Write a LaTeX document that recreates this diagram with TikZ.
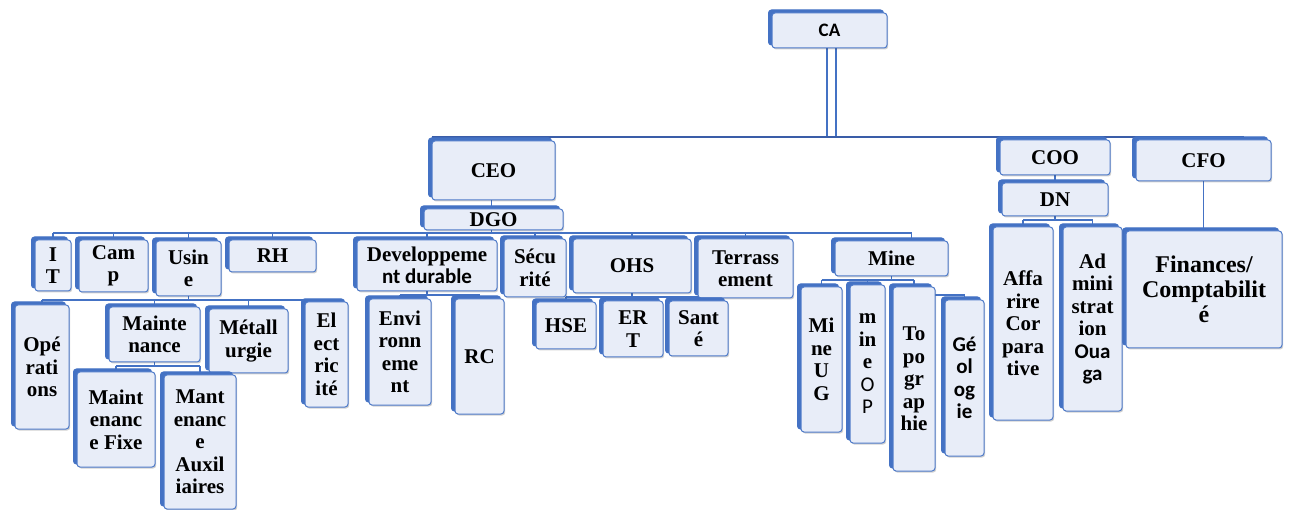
\documentclass[tikz,border=0pt]{standalone}
\usepackage{fontspec}
\setmainfont{Liberation Serif}
\newfontfamily\calfont{Carlito}
\usetikzlibrary{shadows,calc}
\definecolor{face}{HTML}{E8EDF8}
\definecolor{edge}{HTML}{4F7BC9}
\definecolor{depth}{HTML}{4472C4}
\definecolor{wire}{HTML}{4472C4}
\definecolor{mainwire}{HTML}{3A5DA8}
\pgfdeclarelayer{bg}
\pgfsetlayers{bg,main}
\tikzset{
  orgbox/.style={draw=edge, line width=1pt, rounded corners=3pt,
    fill=face, inner sep=0pt, align=center,
    font=\fontsize{21}{22.5}\selectfont\bfseries,
    drop shadow={shadow xshift=1.2pt, shadow yshift=-1.5pt, fill=black, opacity=0.18},
    general shadow={shadow xshift=-3.5pt, shadow yshift=3pt, fill=depth, draw=depth}},
  wire/.style={draw=wire, line width=1.6pt},
  mainline/.style={draw=mainwire, line width=2.6pt}
}
\newcommand\orgbox[7][]{\node[orgbox,#1,minimum width={#5-#3},minimum height={#6-#4}] (#2) at ({(#3+#5)/2},{(#4+#6)/2}) {#7};}
\begin{document}
\begin{tikzpicture}[x=1pt,y=-1pt]
\useasboundingbox (0,0) rectangle (1290,510);
% top level
\orgbox[font=\fontsize{19}{21}\selectfont\bfseries\calfont]{CA}{772}{13}{887}{48}{CA}
\orgbox{CEO}{432}{141}{555}{200}{CEO}
\orgbox{DGO}{424}{209}{563}{230}{DGO}
\orgbox{COO}{1000}{140}{1110}{175}{COO}
\orgbox{DN}{1002}{183}{1108}{216}{DN}
\orgbox{CFO}{1136}{140}{1271}{181}{CFO}
\orgbox[font=\fontsize{24}{25}\selectfont\bfseries]{Fin}{1126}{231}{1282}{348}{Finances/\\Comptabilit\\é}
\orgbox{Aff}{993}{227}{1053}{420}{Affa\\rire\\Cor\\para\\tive}
\orgbox{Adm}{1063}{227}{1122}{411}{Ad\\mini\\strat\\ion\\{\calfont Oua}\\{\calfont ga}}
% DGO children
\orgbox{IT}{35}{240}{71}{291}{I\\T}
\orgbox{Camp}{79}{240}{148}{292}{Cam\\p}
\orgbox{Usine}{156}{241}{221}{296}{Usin\\e}
\orgbox{RH}{229}{240}{316}{272}{RH}
\orgbox{DevDur}{357}{240}{497}{291}{Developpeme\\{\calfont nt durable}}
\orgbox{Secu}{504}{239}{566}{297}{Sécu\\rité}
\orgbox{OHS}{573}{239}{691}{293}{OHS}
\orgbox{Terr}{698}{239}{793}{298}{Terrass\\ement}
\orgbox{Mine}{835}{241}{948}{276}{Mine}
% Usine children
\orgbox{Oper}{15}{305}{69}{429}{Opé\\rati\\ons}
\orgbox{Maint}{109}{307}{200}{362}{Mainte\\nance}
\orgbox{Metal}{209}{309}{288}{373}{Métall\\urgie}
\orgbox{Elec}{305}{302}{348}{407}{El\\ect\\ric\\ité}
\orgbox{MFixe}{77}{372}{155}{467}{Maint\\enanc\\e Fixe}
\orgbox{MAux}{164}{375}{236}{509}{Mant\\enanc\\e\\Auxil\\iaires}
% Dev durable children
\orgbox{Env}{369}{299}{431}{405}{Envi\\ronn\\eme\\nt}
\orgbox{RC}{455}{299}{504}{414}{RC}
% OHS children
\orgbox{HSE}{536}{302}{596}{349}{HSE}
\orgbox{ERT}{603}{301}{663}{357}{ER\\T}
\orgbox{Sante}{669}{301}{728}{356}{Sant\\é}
% Mine children
\orgbox{MineUG}{801}{287}{842}{432}{Mi\\ne\\U\\G}
\orgbox{MineOP}{850}{285}{885}{443}{m\\in\\e\\{\calfont\mdseries O}\\{\calfont\mdseries P}}
\orgbox{Topo}{893}{287}{935}{471}{To\\po\\gr\\ap\\hie}
\orgbox[font=\fontsize{21}{22.5}\selectfont\bfseries\calfont]{Geo}{945}{300}{984}{456}{Gé\\ol\\og\\ie}
% connectors
\begin{pgfonlayer}{bg}
\coordinate (busTop) at (0,137);
\coordinate (busDGO) at (0,233);
\coordinate (busUsine) at (0,300);
\coordinate (busMaint) at (0,366);
\coordinate (busDev) at (0,295);
\coordinate (busOHS) at (0,297);
\coordinate (busMine) at (0,280);
\coordinate (busGeo) at (0,295);
\coordinate (busDN) at (0,220);
\draw[wire,line width=1.5pt] ([xshift=-2.5pt]CA.south) -- ([xshift=-2.5pt]CA.south |- busTop);
\draw[wire,line width=1.5pt] ([xshift=6.5pt]CA.south) -- ([xshift=6.5pt]CA.south |- busTop);
\draw[mainline] (CEO.north west |- busTop) -- ([xshift=40pt]CFO.north |- busTop);
\draw[wire] ([xshift=-2pt]CEO.south) -- ([xshift=-2pt]CEO.south |- DGO.north);
\draw[wire] ([xshift=-2pt]DGO.south) -- ([xshift=-2pt]DGO.south |- busDGO);
\draw[wire] (IT.north |- busDGO) -- ([xshift=20pt]Mine.north |- busDGO);
\foreach \n in {IT,Camp,Usine,RH,DevDur,Secu,OHS,Terr}
  \draw[wire] (\n.north |- busDGO) -- (\n.north);
\draw[wire] ([xshift=20pt]Mine.north |- busDGO) -- ([xshift=20pt]Mine.north);
% Usine
\draw[wire] (Usine.south) -- (Usine.south |- busUsine);
\draw[wire] (Oper.north |- busUsine) -- (Elec.north |- busUsine);
\foreach \n in {Oper,Maint,Metal,Elec}
  \draw[wire] (\n.north |- busUsine) -- (\n.north);
% Maintenance
\draw[wire] (Maint.south) -- (Maint.south |- busMaint);
\draw[wire] (MFixe.north |- busMaint) -- (MAux.north |- busMaint);
\foreach \n in {MFixe,MAux}
  \draw[wire] (\n.north |- busMaint) -- (\n.north);
% Dev durable
\draw[wire] (DevDur.south) -- (DevDur.south |- busDev);
\draw[wire] (Env.north |- busDev) -- (RC.north |- busDev);
\foreach \n in {Env,RC}
  \draw[wire] (\n.north |- busDev) -- (\n.north);
% OHS
\draw[wire] (OHS.south) -- (OHS.south |- busOHS);
\draw[wire] (HSE.north |- busOHS) -- (Sante.north |- busOHS);
\foreach \n in {HSE,ERT,Sante}
  \draw[wire] (\n.north |- busOHS) -- (\n.north);
% Mine
\draw[wire] (Mine.south) -- (Mine.south |- busMine);
\draw[wire] (MineUG.north |- busMine) -- (Topo.north |- busMine);
\foreach \n in {MineUG,MineOP,Topo}
  \draw[wire] (\n.north |- busMine) -- (\n.north);
\draw[wire] (Topo.north |- busGeo) -| (Geo.north);
% COO / DN
\draw[wire] (COO.south) -- (DN.north);
\draw[wire] (DN.south) -- (DN.south |- busDN);
\draw[wire] (Aff.north |- busDN) -- (Adm.north |- busDN);
\foreach \n in {Aff,Adm}
  \draw[wire] (\n.north |- busDN) -- (\n.north);
% CFO
\draw[wire] (CFO.south) -- (CFO.south |- Fin.north);
\end{pgfonlayer}
\end{tikzpicture}
\end{document}
